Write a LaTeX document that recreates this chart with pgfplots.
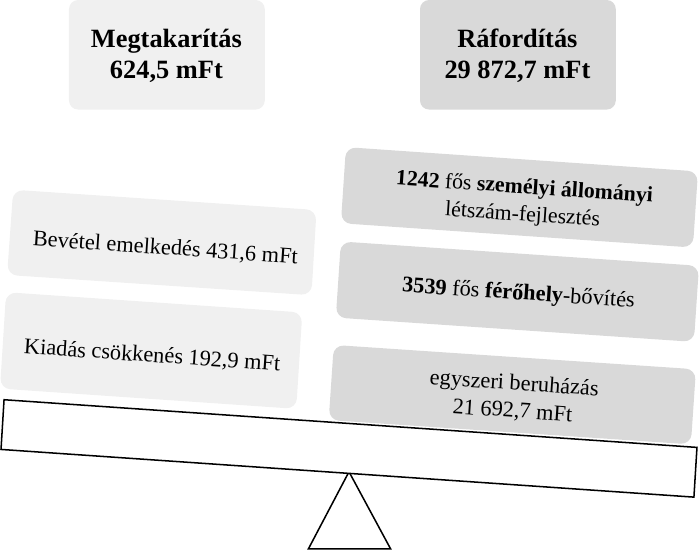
\documentclass[border=0pt]{standalone}
\usepackage{pgfplots}
\pgfplotsset{compat=1.18}
\usepackage{fontspec}
\setmainfont{Liberation Serif}
\definecolor{boxlight}{HTML}{F0F0F0}
\definecolor{boxdark}{HTML}{D9D9D9}
\begin{document}
\begin{tikzpicture}
\begin{axis}[
  width=699pt, height=553pt, scale only axis,
  xmin=0, xmax=699, ymin=0, ymax=553, y dir=reverse,
  hide axis, clip=true,
]
% top summary boxes
\addplot[fill=boxlight, draw=none, rounded corners=9pt] coordinates {(77,10) (270,10) (270,118) (77,118)} --cycle;
\addplot[fill=boxdark, draw=none, rounded corners=9pt] coordinates {(423,10) (616,10) (616,118) (423,118)} --cycle;
% left (savings) boxes
\addplot[fill=boxlight, draw=none, rounded corners=10pt] coordinates {(22,197) (321,217) (316,301) (16,281)} --cycle;
\addplot[fill=boxlight, draw=none, rounded corners=10pt] coordinates {(15,298) (307,318) (301,413) (9,393)} --cycle;
% right (cost) boxes
\addplot[fill=boxdark, draw=none, rounded corners=10pt] coordinates {(350,155) (697,179) (692,254) (345,230)} --cycle;
\addplot[fill=boxdark, draw=none, rounded corners=10pt] coordinates {(345,248) (698,272) (693,347) (340,323)} --cycle;
\addplot[fill=boxdark, draw=none, rounded corners=10pt] coordinates {(338,350) (695,374) (690,448) (333,424)} --cycle;
% fulcrum
\addplot[fill=white, draw=black, line width=1.5pt, line join=miter] coordinates {(353,475) (394,551) (313,551)} --cycle;
% beam
\addplot[fill=white, draw=black, line width=1.5pt] coordinates {(13,404) (696,451) (693,500) (10,453)} --cycle;

% texts
\node[align=center, font=\fontsize{26}{30}\selectfont\bfseries] at (axis cs:173,65) {Megtakarítás\\624,5 mFt};
\node[align=center, font=\fontsize{26}{30}\selectfont\bfseries] at (axis cs:519,65) {Ráfordítás\\29 872,7 mFt};
\node[align=center, rotate=-3.9, font=\fontsize{22}{26}\selectfont] at (axis cs:172,255) {Bevétel emelkedés 431,6 mFt};
\node[align=center, rotate=-3.9, font=\fontsize{22}{26}\selectfont] at (axis cs:159,361) {Kiadás csökkenés 192,9 mFt};
\node[align=center, rotate=-3.9, font=\fontsize{21.5}{27}\selectfont] at (axis cs:525,209) {{\bfseries 1242} fős {\bfseries személyi állományi}\\létszám-fejlesztés};
\node[align=center, rotate=-3.9, font=\fontsize{22}{26}\selectfont] at (axis cs:520,300) {{\bfseries 3539} fős {\bfseries férőhely}-bővítés};
\node[align=center, rotate=-3.9, font=\fontsize{22}{27}\selectfont] at (axis cs:515,402) {egyszeri beruházás\\21 692,7 mFt};
\end{axis}
\end{tikzpicture}
\end{document}
